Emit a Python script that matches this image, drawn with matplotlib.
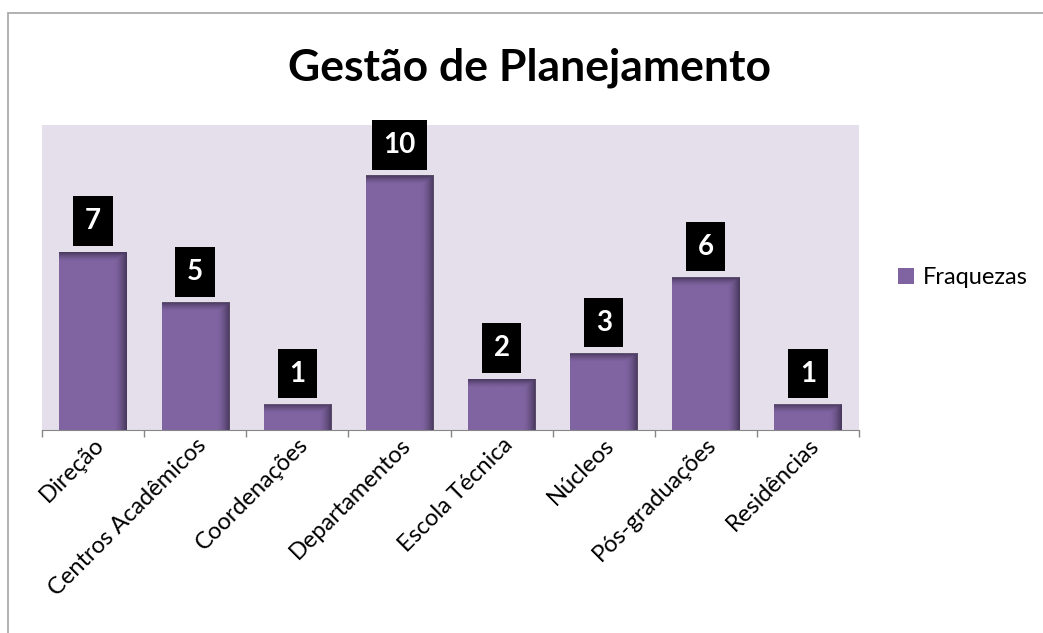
import matplotlib.pyplot as plt
import numpy as np
from matplotlib.patches import Rectangle
from matplotlib.colors import to_rgb

# Data
categories = ["Direção", "Centros Acadêmicos", "Coordenações", "Departamentos",
              "Escola Técnica", "Núcleos", "Pós-graduações", "Residências"]
fraquezas = [7, 5, 1, 10, 2, 3, 6, 1]
series_name = "Fraquezas"

plt.rcParams['font.family'] = ['Lato', 'DejaVu Sans']

bar_color = "#8064A2"
shade_color = "#3F3151"
bg_color = "#E5DFEC"

fig = plt.figure(figsize=(10.43, 6.33), dpi=100)
ax = fig.add_axes([0.0403, 0.3207, 0.7833, 0.4818])
ax.set_facecolor(bg_color)

x = np.arange(len(categories))
bar_width = 0.66
bars = ax.bar(x, fraquezas, bar_width, color=bar_color, label=series_name, zorder=2)

# soft inner shadow along the right and top edges of each bar
shade = np.array(to_rgb(shade_color))
for rect in bars:
    x0, w, h = rect.get_x(), rect.get_width(), rect.get_height()
    nx, ny = 60, 200
    gx = np.linspace(0, 1, nx)
    gy = np.linspace(0, 1, ny)
    ax_alpha = np.clip((gx - 0.82) / 0.18, 0, 1) ** 1.5
    top_px = min(0.35 / h, 1)
    ay = np.clip((gy - (1 - top_px)) / top_px, 0, 1) ** 1.5
    alpha = np.maximum(ax_alpha[None, :], ay[:, None]) * 0.85
    img = np.zeros((ny, nx, 4))
    img[..., :3] = shade
    img[..., 3] = alpha
    ax.imshow(img, extent=(x0, x0 + w, 0, h), origin='lower', aspect='auto',
              zorder=3, interpolation='bilinear')

# value labels in black boxes
for xi, v in zip(x, fraquezas):
    ax.text(xi, v + 1.22, str(v), ha='center', va='center', color='white',
            fontsize=20, fontweight='bold', zorder=5,
            bbox=dict(boxstyle='square,pad=0.42', facecolor='black', edgecolor='none'))

ax.set_xlim(-0.5, len(categories) - 0.5)
ax.set_ylim(0, 12)
ax.set_yticks([])
ax.set_xticks(np.arange(len(categories) + 1) - 0.5, minor=True)
ax.set_xticks(x)
ax.set_xticklabels(categories, rotation=45, ha='right', rotation_mode='anchor',
                   fontsize=17)
ax.tick_params(axis='x', which='major', length=0, pad=3)
ax.tick_params(axis='x', which='minor', length=5, color='#868686', width=1)
for side in ['top', 'right', 'left']:
    ax.spines[side].set_visible(False)
ax.spines['bottom'].set_color('#868686')

fig.suptitle("Gestão de Planejamento", x=0.508, y=0.925, fontsize=32,
             fontweight='bold')

leg = ax.legend(loc='center left', bbox_to_anchor=(1.022, 0.5), frameon=False,
                fontsize=17, handlelength=0.65, handleheight=0.65, handletextpad=0.4)

# outer chart frame
fig.patches.append(Rectangle((0.008, -0.05), 1.05, 1.03, transform=fig.transFigure,
                             fill=False, edgecolor='#ABABAB', linewidth=1.3))

plt.savefig('out.png', dpi=100)
